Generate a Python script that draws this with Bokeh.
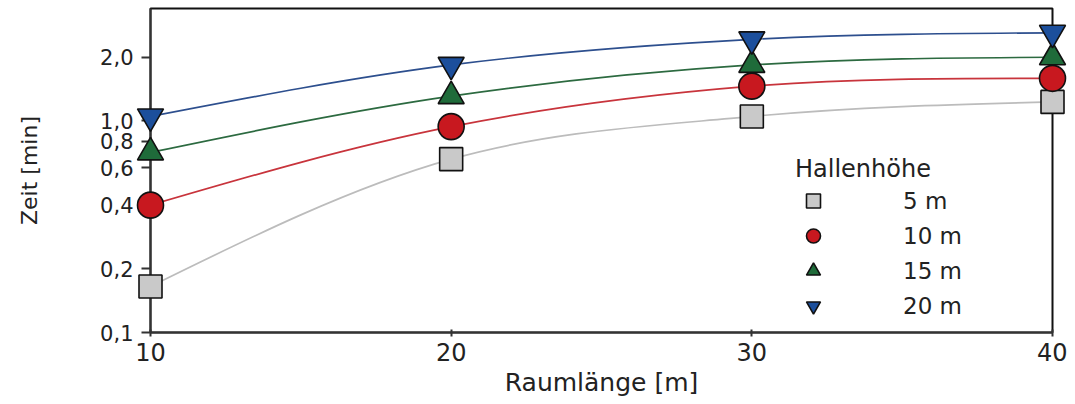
import math
from bokeh.plotting import figure
from bokeh.models import Range1d, FixedTicker, Legend, LegendItem
from bokeh.embed import file_html
from bokeh.resources import INLINE

# ---- data ----
raumlaenge = [10, 20, 30, 40]
zeit_5m = [0.165, 0.66, 1.05, 1.23]
zeit_10m = [0.40, 0.94, 1.46, 1.59]
zeit_15m = [0.71, 1.31, 1.84, 2.00]
zeit_20m = [1.05, 1.84, 2.43, 2.61]

series_labels = ["5 m", "10 m", "15 m", "20 m"]
series_values = [zeit_5m, zeit_10m, zeit_15m, zeit_20m]
series_markers = ["square", "circle", "triangle", "inverted_triangle"]
series_fill = ["#c9c9c9", "#c8181f", "#1f6b3a", "#1c4f9c"]
series_line = ["#bcbcbc", "#c8343c", "#2c6a40", "#2d4f8e"]

y_ticks = [0.1, 0.2, 0.4, 0.6, 0.8, 1.0, 2.0]
y_tick_labels = ["0,1", "0,2", "0,4", "0,6", "0,8", "1,0", "2,0"]
x_ticks = [10, 20, 30, 40]

FONT = "DejaVu Sans"

p = figure(
    frame_width=902, frame_height=324,
    min_border_left=150, min_border_right=15, min_border_top=8, min_border_bottom=64,
    x_range=Range1d(10, 40), y_range=Range1d(0.1, 3.4),
    y_axis_type="log",
    output_backend="svg", toolbar_location=None,
    background_fill_color="white", border_fill_color="white",
)
p.grid.visible = False
p.outline_line_color = "#111111"
p.outline_line_width = 2


def bezier_segments(xs, ys):
    """Smooth drawing of the read points (cubic Bezier in log-y space)."""
    ly = [math.log10(v) for v in ys]
    n = len(xs)
    d = [(ly[i + 1] - ly[i]) / (xs[i + 1] - xs[i]) for i in range(n - 1)]
    m = [0.0] * n
    for i in range(1, n - 1):
        m[i] = (d[i - 1] + d[i]) / 2
    m[0] = (3 * d[0] - m[1]) / 2
    m[-1] = max((3 * d[-1] - m[-2]) / 2, 0.0)
    seg = dict(x0=[], y0=[], x1=[], y1=[], cx0=[], cy0=[], cx1=[], cy1=[])
    for i in range(n - 1):
        h = xs[i + 1] - xs[i]
        seg["x0"].append(xs[i]); seg["y0"].append(ys[i])
        seg["x1"].append(xs[i + 1]); seg["y1"].append(ys[i + 1])
        seg["cx0"].append(xs[i] + h / 3)
        seg["cy0"].append(10 ** (ly[i] + m[i] * h / 3))
        seg["cx1"].append(xs[i + 1] - h / 3)
        seg["cy1"].append(10 ** (ly[i + 1] - m[i + 1] * h / 3))
    return seg


for lab, vals, mk, fc, lc in zip(series_labels, series_values, series_markers, series_fill, series_line):
    s = bezier_segments(raumlaenge, vals)
    p.bezier(x0=s["x0"], y0=s["y0"], x1=s["x1"], y1=s["y1"],
             cx0=s["cx0"], cy0=s["cy0"], cx1=s["cx1"], cy1=s["cy1"],
             line_color=lc, line_width=1.7)

items = []
for lab, vals, mk, fc, lc in zip(series_labels, series_values, series_markers, series_fill, series_line):
    r = p.scatter(raumlaenge, vals, marker=mk, size=26 if mk != "square" else 23,
                  fill_color=fc, line_color="#111111", line_width=1.6, level="overlay")
    items.append(LegendItem(label=lab, renderers=[r]))

legend = Legend(items=items, location=(645, 9), title="Hallenhöhe",
                title_text_font=FONT, title_text_font_size="24px", title_text_font_style="normal",
                title_text_color="#222222", title_standoff=0,
                label_text_font=FONT, label_text_font_size="23px", label_text_color="#222222",
                glyph_width=36, glyph_height=35, spacing=0, label_standoff=72,
                background_fill_alpha=0, border_line_alpha=0, padding=0, margin=0)
p.add_layout(legend, "center")

# axes
p.yaxis.ticker = FixedTicker(ticks=y_ticks)
p.yaxis.major_label_overrides = {t: l for t, l in zip(y_ticks, y_tick_labels)}
p.yaxis.minor_tick_line_color = None
p.xaxis.ticker = FixedTicker(ticks=x_ticks)
p.xaxis.minor_tick_line_color = None

p.yaxis.axis_label = "Zeit [min]"
p.xaxis.axis_label = "Raumlänge [m]"

for ax in (p.xaxis, p.yaxis):
    ax.axis_line_color = "#333333"
    ax.axis_line_width = 2
    ax.major_tick_line_color = "#333333"
    ax.major_tick_line_width = 2
    ax.major_label_text_font = FONT
    ax.major_label_text_color = "#222222"
    ax.axis_label_text_font = FONT
    ax.axis_label_text_font_style = "normal"
    ax.axis_label_text_color = "#222222"

p.yaxis.major_tick_out = 9
p.yaxis.major_tick_in = 0
p.yaxis.major_label_text_font_size = "21px"
p.yaxis.major_label_standoff = 8
p.yaxis.axis_label_text_font_size = "22px"
p.yaxis.axis_label_standoff = 55

p.xaxis.major_tick_out = 4
p.xaxis.major_tick_in = 3
p.xaxis.major_label_text_font_size = "24px"
p.xaxis.major_label_standoff = 6
p.xaxis.axis_label_text_font_size = "25px"
p.xaxis.axis_label_standoff = 4

open("out.html", "w").write(file_html(p, INLINE))
